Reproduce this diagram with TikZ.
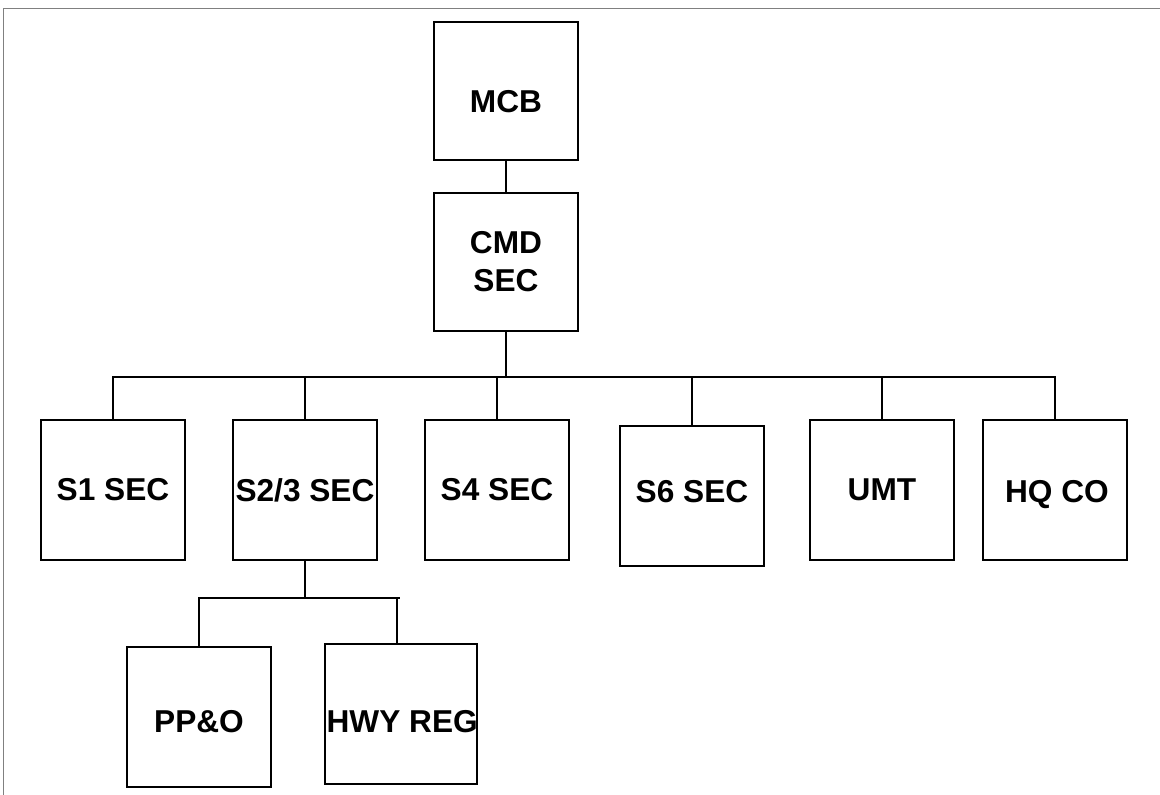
\documentclass[tikz,border=0pt]{standalone}
\usepackage{fontspec}
\setmainfont{Liberation Sans}
\usetikzlibrary{positioning, calc}
\tikzset{
    orgbox/.style={rectangle, draw=black, line width=1.6pt, minimum width=3.6cm, minimum height=3.5cm, inner sep=0pt, align=center, font=\fontsize{22.5}{27}\selectfont\bfseries},
    lbl/.style={inner sep=0pt, font=\fontsize{22.5}{27}\selectfont\bfseries},
    link/.style={draw=black, line width=1.3pt},
}

\begin{document}
\begin{tikzpicture}[x=0.025cm, y=-0.025cm]
        \useasboundingbox (0,0) rectangle (1160,795);
        % frame (top and left only)
        \draw[gray, line width=0.6pt] (1160,8) -- (3,8) -- (3,795);

        % top of the chart
        \node[orgbox, minimum height=3.45cm, label={[lbl, yshift=-0.27cm]center:MCB}] (mcb) at (506,91) {};
        \node[orgbox, minimum height=3.45cm] (cmd) at (506,262) {CMD\\SEC};

        % sections
        \node[orgbox] (s1)  at (113,490) {S1 SEC};
        \node[orgbox] (s23) at (305,490) {S2/3 SEC};
        \node[orgbox] (s4)  at (497,490) {S4 SEC};
        \node[orgbox, label={[lbl, yshift=0.12cm]center:S6 SEC}] (s6) at (692,496) {};
        \node[orgbox] (umt) at (882,490) {UMT};
        \node[orgbox, label={[lbl, xshift=0.05cm, yshift=-0.12cm]center:HQ CO}] (hq) at (1055,490) {};

        % under S2/3
        \node[orgbox, label={[lbl, yshift=-0.12cm]center:PP\&O}] (ppo) at (199,717) {};
        \node[orgbox, minimum width=3.8cm, label={[lbl, xshift=0.03cm, yshift=-0.2cm]center:HWY REG}] (hwy) at (401,714) {};

        % bus points
        \coordinate (bus) at (506,377);
        \coordinate (sub) at (305,598);
        \coordinate (subend) at (400,598);

        % connectors
        \draw[link] (mcb) -- (cmd);
        \draw[link] (cmd) -- (bus);
        \draw[link] (bus) -| (s1.north);
        \draw[link] (bus) -| (s23.north);
        \draw[link] (bus) -| (s4.north);
        \draw[link] (bus) -| (s6.north);
        \draw[link] (bus) -| (umt.north);
        \draw[link] (bus) -| (hq.north);
        \draw[link] (s23) -- (sub);
        \draw[link] (sub) -| (ppo.north);
        \draw[link] (sub) -- (subend);
        \draw[link] (subend) ++(-3,0) -- (hwy.north -| 397,0);
    \end{tikzpicture}
\end{document}
